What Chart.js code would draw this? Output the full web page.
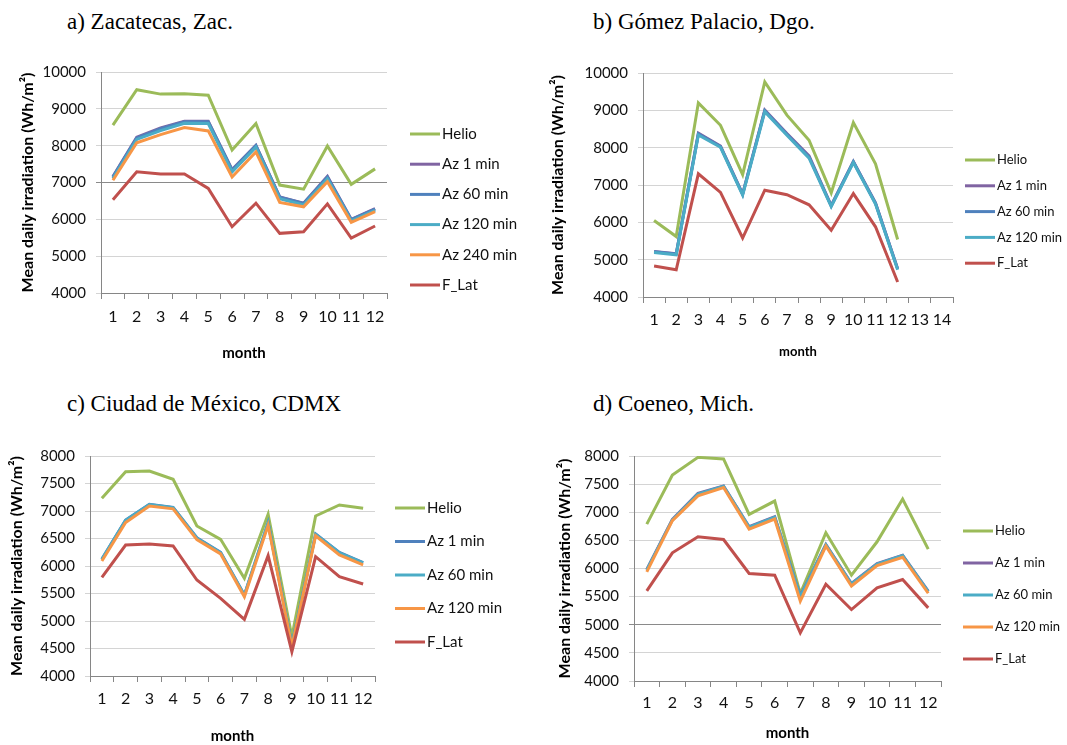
<!DOCTYPE html>
<html>
<head>
<meta charset="utf-8">
<script src="https://cdn.jsdelivr.net/npm/chart.js@4"></script>
<style>
body { margin: 0; background: #fff; width: 1067px; height: 745px; position: relative; overflow: hidden; }
.t { position: absolute; font-family: "Liberation Serif", "Times New Roman", serif; font-size: 23px; line-height: 26px; color: #000; white-space: nowrap; }
canvas { position: absolute; }
</style>
</head>
<body>
<div class="t" style="left:67px;top:9px">a) Zacatecas, Zac.</div>
<div class="t" style="left:593px;top:9px">b) Gómez Palacio, Dgo.</div>
<div class="t" style="left:67px;top:391px">c) Ciudad de México, CDMX</div>
<div class="t" style="left:593px;top:391px">d) Coeneo, Mich.</div>
<canvas id="ca"></canvas>
<canvas id="cb"></canvas>
<canvas id="cc"></canvas>
<canvas id="cd"></canvas>
<script>
// months
var months = ["1", "2", "3", "4", "5", "6", "7", "8", "9", "10", "11", "12"];
var monthsB = ["1", "2", "3", "4", "5", "6", "7", "8", "9", "10", "11", "12", "13", "14"];

// a) Zacatecas
var aHelio = [8560, 9520, 9400, 9410, 9370, 7880, 8600, 6930, 6820, 7990, 6950, 7370];
var aAz1 = [7160, 8230, 8480, 8660, 8660, 7350, 8010, 6610, 6440, 7170, 6000, 6290];
var aAz60 = [7150, 8210, 8460, 8650, 8650, 7340, 8000, 6600, 6430, 7150, 5990, 6280];
var aAz120 = [7110, 8170, 8410, 8610, 8600, 7290, 7960, 6560, 6390, 7100, 5960, 6240];
var aAz240 = [7060, 8080, 8300, 8490, 8400, 7150, 7830, 6460, 6340, 7020, 5920, 6210];
var aLat = [6530, 7290, 7230, 7230, 6840, 5800, 6440, 5620, 5665, 6420, 5490, 5820];

// b) Gomez Palacio
var bHelio = [6050, 5620, 9200, 8600, 7280, 9760, 8870, 8200, 6790, 8670, 7570, 5540];
var bAz1 = [5220, 5160, 8390, 8040, 6760, 9010, 8380, 7780, 6450, 7630, 6520, 4760];
var bAz60 = [5210, 5150, 8370, 8030, 6750, 8990, 8360, 7750, 6440, 7620, 6510, 4750];
var bAz120 = [5190, 5130, 8340, 8010, 6730, 8960, 8330, 7720, 6420, 7600, 6490, 4730];
var bLat = [4830, 4730, 7300, 6800, 5580, 6860, 6740, 6470, 5790, 6770, 5880, 4400];

// c) Ciudad de Mexico
var cHelio = [7230, 7715, 7727, 7576, 6727, 6485, 5776, 6940, 4715, 6910, 7110, 7050];
var cAz1 = [6127, 6836, 7121, 7067, 6515, 6248, 5473, 6788, 4564, 6582, 6248, 6060];
var cAz60 = [6120, 6830, 7115, 7060, 6505, 6240, 5470, 6780, 4560, 6575, 6240, 6055];
var cAz120 = [6090, 6790, 7090, 7040, 6480, 6220, 5440, 6740, 4530, 6550, 6200, 6020];
var cLat = [5794, 6382, 6400, 6364, 5745, 5412, 5030, 6188, 4442, 6170, 5806, 5673];

// d) Coeneo
var dHelio = [6789, 7662, 7976, 7947, 6961, 7199, 5555, 6635, 5881, 6475, 7234, 6344];
var dAz1 = [5982, 6872, 7335, 7466, 6742, 6920, 5513, 6427, 5733, 6089, 6237, 5596];
var dAz60 = [5975, 6865, 7325, 7460, 6735, 6910, 5500, 6420, 5725, 6080, 6230, 5590];
var dAz120 = [5940, 6850, 7290, 7440, 6700, 6880, 5420, 6400, 5690, 6050, 6200, 5560];
var dLat = [5602, 6279, 6564, 6516, 5911, 5881, 4855, 5721, 5270, 5656, 5804, 5300];

var GREEN = "#9BBB59", PURPLE = "#8064A2", BLUE = "#4F81BD", TEAL = "#4BACC6", ORANGE = "#F79646", RED = "#C0504D";
var YTITLE = "Mean daily irradiation (Wh/m²)";

function legendPlugin(p) {
    return {
        id: "lg",
        afterDraw: function (chart) {
            var ctx = chart.ctx;
            chart.data.datasets.forEach(function (d, i) {
                var y = p.legY + i * p.legStep - p.top;
                var x = p.legX - p.left;
                ctx.save();
                ctx.strokeStyle = d.borderColor;
                ctx.lineWidth = 3;
                ctx.beginPath();
                ctx.moveTo(x, y);
                ctx.lineTo(x + 30, y);
                ctx.stroke();
                ctx.fillStyle = "#111";
                ctx.font = p.legFont + "px Lato";
                ctx.textBaseline = "middle";
                ctx.fillText(d.label, x + 32, y);
                ctx.restore();
            });
        }
    };
}

function panel(id, p, labels, series) {
    var cv = document.getElementById(id);
    cv.width = p.w;
    cv.height = p.h;
    cv.style.left = p.left + "px";
    cv.style.top = p.top + "px";
    var padLeft = p.yTitleX - p.left - 4 - 16 * 1.2 / 2;
    new Chart(cv, {
        type: "line",
        data: {
            labels: labels,
            datasets: series.map(function (s, i) {
                return {
                    label: s[0], data: s[1], borderColor: s[2], backgroundColor: s[2],
                    borderWidth: 3, pointRadius: 0, tension: 0, order: series.length - i
                };
            })
        },
        options: {
            responsive: false,
            animation: false,
            layout: { padding: { left: padLeft, right: p.left + p.w - p.R, top: p.T - p.top, bottom: 0 } },
            plugins: { legend: { display: false }, tooltip: { enabled: false } },
            scales: {
                x: {
                    offset: true,
                    grid: { offset: true, drawOnChartArea: false, tickLength: 6, color: "#868686" },
                    border: { color: "#868686" },
                    ticks: { font: { family: "Lato", size: 16 }, color: "#111", padding: p.xPad, maxRotation: 0, autoSkip: false },
                    title: { display: true, text: "month", color: "#000", font: { family: "Lato", size: p.monthSize, weight: "bold" }, padding: { top: 0, bottom: p.monthPad } },
                    afterFit: function (s) { s.height = p.top + p.h - p.B; }
                },
                y: {
                    min: p.min, max: p.max,
                    grid: {
                        tickLength: 5,
                        color: function (c) { return c.tick && c.tick.value === p.dark ? "#8a8a8a" : "#d4d4d4"; }
                    },
                    border: { color: "#868686" },
                    ticks: { stepSize: p.step, font: { family: "Lato", size: 15 }, color: "#111", padding: 10, callback: function (v) { return String(v); } },
                    title: { display: true, text: YTITLE, color: "#000", font: { family: "Lato", size: 16, weight: "bold" }, padding: { top: 4, bottom: 4 } },
                    afterFit: function (s) { s.width = p.L - p.left - padLeft; }
                }
            }
        },
        plugins: [legendPlugin(p)]
    });
}

panel("ca", {
    left: 0, top: 40, w: 533, h: 330, L: 101, R: 387, T: 72, B: 293,
    yTitleX: 28, xPad: 8, monthSize: 15, monthPad: 8,
    legX: 410, legY: 134, legStep: 30.2, legFont: 15,
    min: 4000, max: 10000, step: 1000, dark: 7000
}, months, [
    ["Helio", aHelio, GREEN], ["Az 1 min", aAz1, PURPLE], ["Az 60 min", aAz60, BLUE],
    ["Az 120 min", aAz120, TEAL], ["Az 240 min", aAz240, ORANGE], ["F_Lat", aLat, RED]
]);

panel("cb", {
    left: 533, top: 40, w: 534, h: 330, L: 643, R: 953, T: 73, B: 297,
    yTitleX: 558, xPad: 7, monthSize: 13, monthPad: 10,
    legX: 965, legY: 160, legStep: 25.8, legFont: 13,
    min: 4000, max: 10000, step: 1000, dark: null
}, monthsB, [
    ["Helio", bHelio, GREEN], ["Az 1 min", bAz1, PURPLE], ["Az 60 min", bAz60, BLUE],
    ["Az 120 min", bAz120, TEAL], ["F_Lat", bLat, RED]
]);

panel("cc", {
    left: 0, top: 410, w: 533, h: 335, L: 90, R: 375, T: 456, B: 676,
    yTitleX: 17, xPad: 7, monthSize: 15, monthPad: 0,
    legX: 395, legY: 508, legStep: 33.5, legFont: 15,
    min: 4000, max: 8000, step: 500, dark: null
}, months, [
    ["Helio", cHelio, GREEN], ["Az 1 min", cAz1, BLUE], ["Az 60 min", cAz60, TEAL],
    ["Az 120 min", cAz120, ORANGE], ["F_Lat", cLat, RED]
]);

panel("cd", {
    left: 533, top: 410, w: 534, h: 335, L: 634, R: 941, T: 456, B: 681,
    yTitleX: 565, xPad: 6, monthSize: 15, monthPad: 3,
    legX: 963, legY: 531, legStep: 32, legFont: 13,
    min: 4000, max: 8000, step: 500, dark: 5000
}, months, [
    ["Helio", dHelio, GREEN], ["Az 1 min", dAz1, PURPLE], ["Az 60 min", dAz60, TEAL],
    ["Az 120 min", dAz120, ORANGE], ["F_Lat", dLat, RED]
]);
</script>
</body>
</html>
